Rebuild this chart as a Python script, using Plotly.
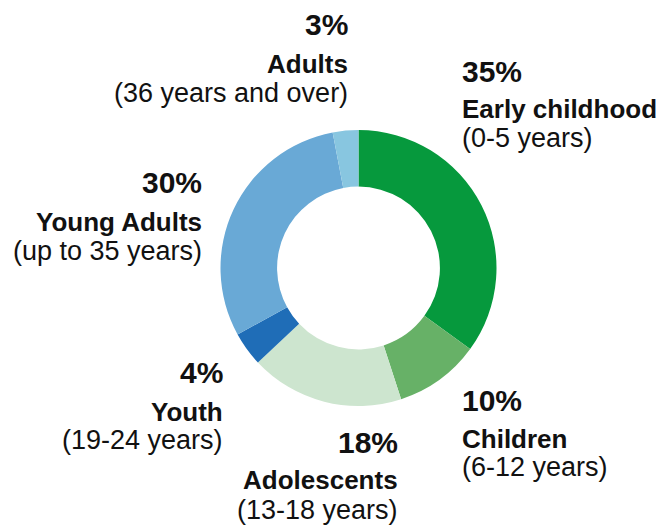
import plotly.graph_objects as go

W, H = 665, 532

# Data
categories = ["Early childhood", "Children", "Adolescents", "Youth", "Young Adults", "Adults"]
age_ranges = ["(0-5 years)", "(6-12 years)", "(13-18 years)", "(19-24 years)",
              "(up to 35 years)", "(36 years and over)"]
values = [35, 10, 18, 4, 30, 3]
colors = ["#06993d", "#67b167", "#cde5cf", "#1f6db7", "#69a9d6", "#88c6e0"]

# label layout: (anchor x px, align, baseline px of the three lines)
label_pos = {
    "Early childhood": (461, "left", (82, 118, 147)),
    "Children": (461, "left", (411, 448, 476)),
    "Adolescents": (399, "right", (453, 489, 519)),
    "Youth": (224, "right", (383, 421, 449)),
    "Young Adults": (203, "right", (193, 231, 260)),
    "Adults": (349, "right", (35, 73, 102)),
}

FONT = "Liberation Sans, Arial, sans-serif"
PCT_SIZE, LBL_SIZE, SUB_SIZE = 30, 26, 27

cx, cy, r = 358.5, 268, 138
fig = go.Figure(go.Pie(
    labels=categories,
    values=values,
    sort=False,
    direction="clockwise",
    rotation=0,
    hole=0.59,
    marker=dict(colors=colors, line=dict(width=0)),
    textinfo="none",
    hoverinfo="label+percent",
    showlegend=False,
    domain=dict(x=[(cx - r) / W, (cx + r) / W], y=[1 - (cy + r) / H, 1 - (cy - r) / H]),
))


def add_line(text, x_px, baseline_px, size, align):
    yc = baseline_px - 0.3465 * size
    fig.add_annotation(
        text=text, x=x_px / W, y=1 - yc / H, xref="paper", yref="paper",
        xanchor=align, yanchor="middle", showarrow=False, borderpad=0,
        font=dict(family=FONT, size=size, color="#111111"),
    )


for cat, val, sub in zip(categories, values, age_ranges):
    x_px, align, (b1, b2, b3) = label_pos[cat]
    add_line(f"<b>{val}%</b>", x_px, b1, PCT_SIZE, align)
    add_line(f"<b>{cat}</b>", x_px, b2, LBL_SIZE, align)
    add_line(sub, x_px, b3, SUB_SIZE, align)

fig.update_layout(
    width=W, height=H,
    margin=dict(l=0, r=0, t=0, b=0),
    paper_bgcolor="white", plot_bgcolor="white",
)

fig.write_html(
    "out.html",
    config={"displayModeBar": False},
    post_script="document.body.style.margin='0';document.body.style.overflow='hidden';",
)
